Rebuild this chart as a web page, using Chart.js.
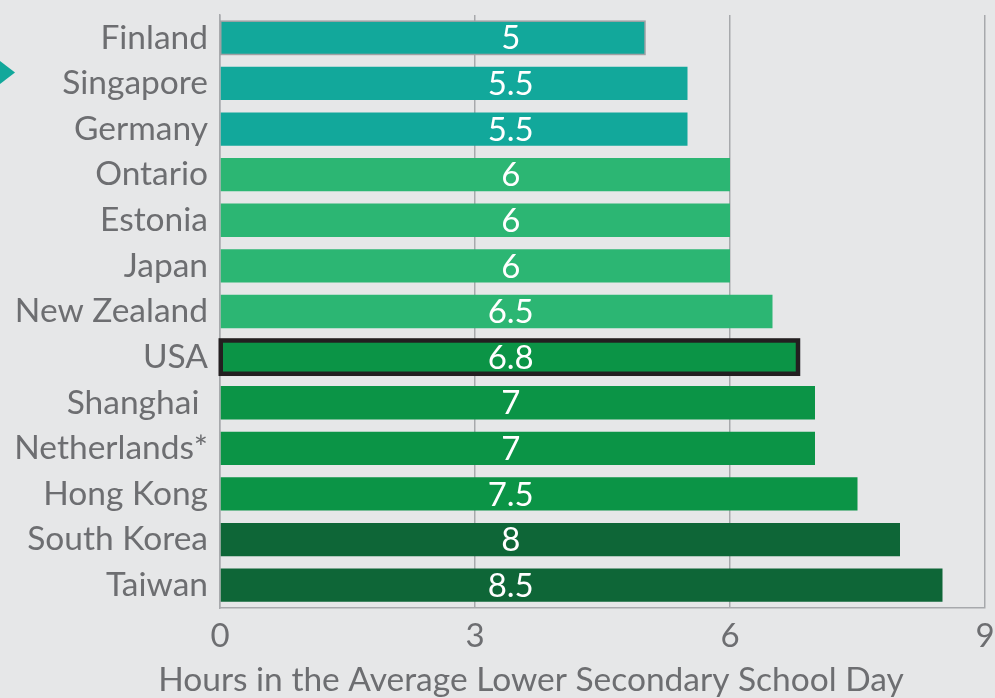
<!DOCTYPE html>
<html>
<head>
<meta charset="utf-8">
<script src="https://cdn.jsdelivr.net/npm/chart.js@4.4.1/dist/chart.umd.min.js"></script>
<style>
  html, body { margin:0; padding:0; background:#E6E7E8; }
  #wrap { width:995px; height:698px; position:relative; }
</style>
</head>
<body>
<div id="wrap"><canvas id="c" width="995" height="698"></canvas></div>
<script>
const categories = ["Finland","Singapore","Germany","Ontario","Estonia","Japan","New Zealand","USA","Shanghai ","Netherlands*","Hong Kong","South Korea","Taiwan"];
const hours = [5, 5.5, 5.5, 6, 6, 6, 6.5, 6.8, 7, 7, 7.5, 8, 8.5];
const valueLabels = ["5","5.5","5.5","6","6","6","6.5","6.8","7","7","7.5","8","8.5"];
const xTicks = [0, 3, 6, 9];
const axisTitle = "Hours in the Average Lower Secondary School Day";

const TEAL = "#12A89B", LIGHT = "#2CB673", MID = "#0B9446", DARK = "#0E6637";
const barColors = [TEAL,TEAL,TEAL,LIGHT,LIGHT,LIGHT,LIGHT,MID,MID,MID,MID,DARK,DARK];
const FONT = "Lato, 'Noto Sans', sans-serif";
const GREY = "#6D6E71";

const overlay = {
  id: 'overlay',
  afterDatasetsDraw(chart) {
    const ctx = chart.ctx;
    const meta = chart.getDatasetMeta(0);
    const xs = chart.scales.x;
    ctx.save();
    let b = meta.data[0];
    ctx.strokeStyle = "#9FA1A4"; ctx.lineWidth = 1.5;
    ctx.strokeRect(b.base, b.y - b.height/2, b.x - b.base, b.height);
    b = meta.data[7];
    ctx.strokeStyle = "#231F20"; ctx.lineWidth = 4.5;
    ctx.strokeRect(b.base, b.y - b.height/2, b.x - b.base, b.height);
    ctx.fillStyle = "#FFFFFF";
    ctx.font = "33px " + FONT;
    ctx.textAlign = "center"; ctx.textBaseline = "middle";
    const lx = xs.getPixelForValue(3.42);
    meta.data.forEach((el, i) => { ctx.fillText(valueLabels[i], lx, el.y + 1); });
    ctx.fillStyle = GREY;
    ctx.font = "33.5px " + FONT;
    ctx.textBaseline = "alphabetic";
    ctx.fillText(axisTitle, 531, 691);
    ctx.fillStyle = TEAL;
    ctx.beginPath(); ctx.moveTo(0, 61); ctx.lineTo(15, 72.5); ctx.lineTo(0, 84); ctx.closePath(); ctx.fill();
    ctx.restore();
  }
};

function zeroPad(scale) {
  scale.paddingTop = 0; scale.paddingBottom = 0;
  scale.paddingLeft = 0; scale.paddingRight = 0;
}

new Chart(document.getElementById('c'), {
  type: 'bar',
  data: {
    labels: categories,
    datasets: [{
      data: hours,
      backgroundColor: barColors,
      borderWidth: 0,
      barPercentage: 0.73,
      categoryPercentage: 1.0
    }]
  },
  options: {
    indexAxis: 'y',
    responsive: false,
    animation: false,
    events: [],
    layout: { padding: { left: 0, right: 10, top: 15, bottom: 0 } },
    plugins: { legend: { display: false }, tooltip: { enabled: false } },
    scales: {
      x: {
        min: 0, max: 9,
        afterBuildTicks(scale) { scale.ticks = xTicks.map(v => ({ value: v })); },
        afterFit(scale) { scale.height = 90; zeroPad(scale); },
        grid: { color: "#A7A9AC", lineWidth: 1.5, drawTicks: false },
        border: { display: true, color: "#A7A9AC", width: 1.5 },
        ticks: { color: GREY, font: { family: FONT, size: 33 }, padding: 9, maxRotation: 0 }
      },
      y: {
        afterFit(scale) { scale.width = 220; zeroPad(scale); },
        grid: { display: false, drawTicks: false },
        border: { display: true, color: "#A7A9AC", width: 1.5 },
        ticks: { color: GREY, font: { family: FONT, size: 33.5 }, padding: 12, autoSkip: false }
      }
    }
  },
  plugins: [overlay]
});
</script>
</body>
</html>
